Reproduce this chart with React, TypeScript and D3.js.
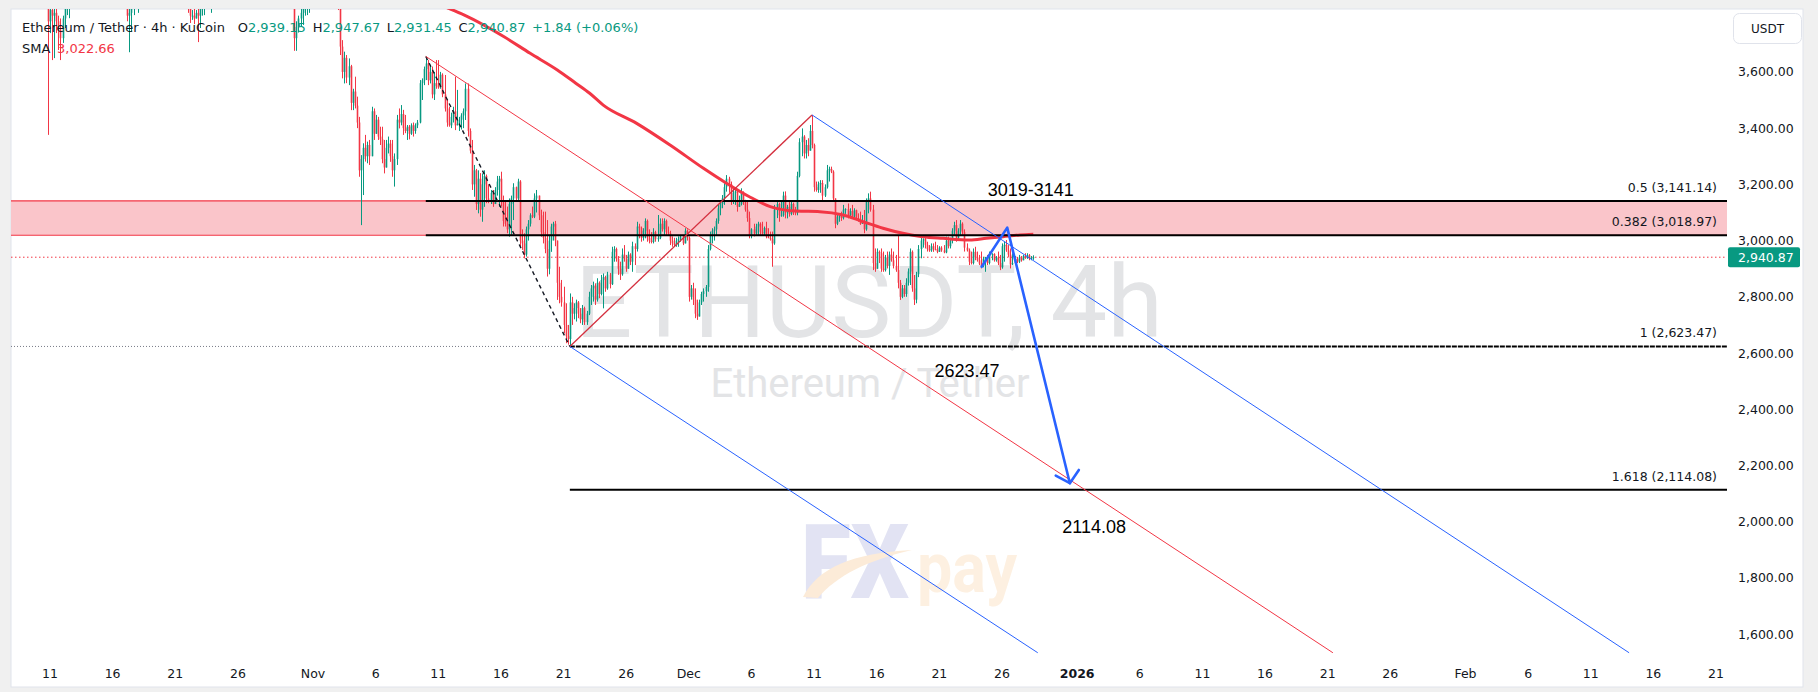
import React from 'react';
import * as d3 from 'd3';

// ---------------- DATA ----------------
// 4h candles from 2025-10-08 00:00 UTC, each [high, low, close]; open = previous close
const candleStartTime = '2025-10-08T00:00:00Z';
const firstOpen = 4460;
const candleHLC: number[][] = [
  [4495,4440,4480],[4530,4470,4510],[4525,4455,4470],[4480,4410,4440],[4500,4430,4490],[4540,4480,4520],
  [4530,4460,4470],[4485,4380,4400],[4420,4330,4350],[4390,4310,4370],[4400,4340,4360],[4380,4290,4330],
  [4370,4310,4350],[4400,4330,4380],[4390,4300,4320],[4340,4180,4200],[4230,4050,4080],[4100,3376,3780],
  [3860,3738,3820],[3850,3642,3800],[3835,3649,3810],[3860,3738,3780],[3800,3678,3750],[3790,3642,3720],
  [3800,3703,3790],[3860,3756,3850],[3920,3802,3900],[3960,3791,3940],[4050,3930,4030],[4150,4020,4130],
  [4180,4100,4160],[4230,4140,4210],[4260,4180,4200],[4250,4170,4230],[4290,4200,4250],[4270,4180,4200],
  [4210,4080,4100],[4110,3920,3960],[4050,3940,4030],[4120,4010,4100],[4150,4080,4120],[4140,4090,4110],
  [4170,4080,4150],[4200,4120,4140],[4150,4030,4050],[4070,3980,4000],[4020,3950,3980],[4000,3940,3990],
  [4060,3970,4040],[4090,4010,4070],[4080,3990,4000],[4010,3900,3920],[3950,3860,3890],[3920,3840,3880],
  [3900,3830,3850],[3860,3780,3800],[3830,3670,3810],[3870,3742,3850],[3900,3802,3880],[3920,3830,3890],
  [3920,3810,3900],[3930,3870,3890],[3920,3860,3900],[3940,3880,3910],[3930,3880,3900],[3920,3860,3890],
  [3920,3850,3900],[3960,3880,3940],[4000,3920,3980],[4010,3940,3960],[3990,3920,3970],[4010,3950,3990],
  [4050,3970,4030],[4080,4010,4060],[4070,3990,4010],[4030,3950,3980],[4000,3920,3960],[3980,3900,3930],
  [3960,3880,3900],[3940,3860,3920],[4100,3900,4080],[4120,3950,3970],[3990,3860,3880],[3900,3840,3870],
  [3890,3810,3830],[3840,3774,3800],[3820,3785,3800],[3830,3770,3790],[3820,3790,3810],[3830,3706,3800],
  [3840,3756,3830],[3860,3800,3850],[3880,3802,3860],[3890,3830,3870],[3900,3840,3880],[3910,3810,3890],
  [3930,3860,3910],[3960,3890,3940],[3980,3910,3930],[3950,3880,3900],[3930,3870,3910],[3940,3890,3920],
  [3950,3900,3930],[3960,3910,3940],[3970,3920,3950],[3980,3930,3960],[3990,3940,3950],[3980,3930,3970],
  [4000,3950,3990],[4050,3980,4040],[4080,4020,4060],[4100,4040,4090],[4140,4070,4120],[4170,4100,4150],
  [4230,4140,4210],[4250,4180,4200],[4220,4150,4170],[4190,4120,4140],[4160,4100,4120],[4140,4090,4110],
  [4130,4070,4090],[4110,4040,4060],[4080,4000,4020],[4040,3950,3970],[3990,3920,3950],[3980,3930,3960],
  [4000,3940,3980],[4020,3960,3990],[4010,3950,3970],[3990,3910,3930],[3950,3870,3890],[3910,3850,3880],
  [3900,3840,3870],[3880,3830,3850],[3860,3826,3840],[3845,3675,3720],[3780,3675,3760],[3800,3740,3790],
  [3830,3760,3810],[3850,3767,3840],[3870,3800,3860],[3880,3802,3870],[3890,3810,3880],[3900,3840,3870],
  [3890,3840,3870],[3900,3850,3880],[3910,3860,3890],[3910,3860,3880],[3900,3850,3870],[3890,3840,3880],
  [3920,3860,3900],[3930,3880,3910],[3920,3860,3880],[3900,3840,3860],[3890,3830,3870],[3900,3850,3880],
  [3900,3820,3850],[3860,3660,3690],[3713,3577,3600],[3672,3559,3650],[3660,3560,3580],[3648,3553,3620],
  [3625,3464,3490],[3540,3464,3530],[3583,3470,3480],[3512,3400,3420],[3440,3227,3250],[3304,3055,3290],
  [3346,3162,3330],[3376,3281,3300],[3352,3275,3340],[3358,3269,3300],[3476,3300,3460],[3470,3358,3380],
  [3447,3380,3430],[3440,3358,3370],[3405,3340,3360],[3405,3275,3290],[3358,3239,3260],[3358,3260,3330],
  [3370,3310,3345],[3358,3280,3300],[3358,3227,3250],[3310,3192,3290],[3447,3269,3430],[3470,3399,3420],
  [3482,3410,3450],[3465,3376,3400],[3447,3382,3390],[3411,3358,3405],[3411,3360,3380],[3417,3376,3410],
  [3420,3370,3390],[3417,3380,3410],[3429,3400,3420],[3571,3417,3560],[3577,3500,3570],[3619,3553,3610],
  [3654,3571,3630],
  [3642,3553,3570],[3625,3559,3600],[3619,3506,3520],[3600,3500,3560],[3642,3540,3550],[3642,3540,3545],
  [3600,3540,3590],[3595,3510,3520],[3589,3459,3470],[3500,3405,3420],[3476,3405,3410],[3455,3400,3440],
  [3476,3420,3460],[3583,3393,3410],[3536,3410,3415],[3440,3390,3430],[3453,3395,3445],[3470,3400,3460],
  [3559,3429,3540],[3559,3370,3390],[3399,3310,3320],[3358,3180,3200],[3269,3156,3250],[3255,3109,3130],
  [3250,3097,3220],[3240,3085,3110],[3239,3067,3200],[3250,3120,3230],[3235,3133,3150],[3200,3133,3140],
  [3180,3130,3170],[3180,3120,3130],[3190,3130,3180],[3230,3160,3210],[3230,3120,3220],[3245,3121,3140],
  [3160,3050,3070],[3140,3050,3060],[3121,3026,3040],[3150,3014,3130],[3160,3020,3150],[3204,3073,3190],
  [3192,3140,3150],[3220,3140,3210],[3215,2979,3000],[3040,2967,2990],[3026,2937,2950],[3050,2943,3040],
  [3073,3000,3060],[3097,3050,3090],[3121,3080,3085],[3168,3080,3150],[3180,3100,3160],[3160,3073,3090],
  [3110,3014,3030],[3103,2990,3010],[3103,2955,2970],[3073,2872,2900],[3020,2880,3000],[3060,2960,3050],
  [3067,3000,3060],[3070,2980,3000],[3000,2789,2850],[2907,2777,2800],[2860,2765,2780],[2836,2670,2700],
  [2777,2635,2660],[2700,2630,2650],[2812,2623.47,2780],
  [2800,2700,2740],[2777,2720,2760],[2790,2712,2780],[2785,2724,2740],[2760,2706,2720],[2771,2700,2760],
  [2765,2700,2710],[2750,2700,2740],[2818,2735,2800],[2842,2771,2830],[2854,2783,2840],[2848,2771,2790],
  [2866,2783,2850],[2855,2795,2810],[2878,2805,2860],[2883,2759,2870],[2875,2818,2830],[2889,2825,2880],
  [2885,2830,2845],[2978,2842,2960],[2980,2925,2970],[2975,2925,2935],[2945,2878,2900],[2925,2860,2880],
  [2972,2875,2950],[2984,2925,2935],[2949,2889,2900],[2961,2901,2950],[2955,2913,2925],[2996,2889,2980],
  [2990,2913,2970],[3067,2961,3050],[3060,3008,3045],[3050,2996,3010],[3044,3000,3035],[3079,3008,3070],
  [3075,2996,3010],[3040,2990,3000],[3030,2990,2995],[3044,2990,3030],[3035,2996,3005],[3091,2996,3010],
  [3079,3005,3060],[3079,3032,3040],[3079,3020,3070],[3075,3020,3030],[3050,3020,3025],[3035,2984,3000],
  [3015,2978,2990],[3010,2978,2985],[3010,2978,3000],[3015,2978,3005],[3020,2996,3015],[3020,2984,2990],
  [3044,2990,3035],[3040,3000,3010],[3015,2783,2800],[2842,2790,2830],[2850,2771,2790],[2830,2724,2740],
  [2790,2718,2730],[2790,2747,2780],[2818,2771,2810],[2830,2783,2820],[2842,2800,2835],[2984,2818,2970],
  [3032,2965,3020],[3044,2990,3035],[3050,3000,3040],[3079,3020,3070],[3127,3060,3115],[3140,3090,3130],
  [3162,3115,3150],[3204,3127,3190],[3233,3174,3220],[3227,3170,3200],[3210,3127,3140],[3186,3130,3170],
  [3186,3127,3175],[3180,3103,3120],[3160,3120,3130],[3186,3125,3170],[3175,3127,3140],[3145,3103,3110],
  [3138,3067,3080],[3103,3008,3020],[3044,3008,3040],[3060,3015,3025],[3060,3020,3050],[3067,3020,3060],
  [3065,3020,3030],[3067,3020,3025],[3050,3020,3045],[3067,3008,3015],[3044,3008,3010],[3032,3000,3005],
  [3032,2907,2990],[3127,2985,3110],[3138,3080,3130],[3135,3067,3090],[3138,3085,3090],[3174,3085,3160],
  [3175,3079,3100],[3127,3079,3120],[3138,3085,3095],[3144,3090,3130],[3135,3091,3100],[3120,3090,3098],
  [3245,3090,3230],[3364,3225,3350],[3399,3300,3370],[3375,3292,3310],[3358,3292,3340],[3364,3300,3320],
  [3411,3320,3390],[3447,3328,3340],[3345,3174,3190],[3210,3174,3180],[3210,3170,3200],[3215,3170,3205],
  [3215,3144,3160],[3200,3155,3190],[3269,3185,3250],[3263,3210,3255],[3263,3240,3245],[3250,3138,3150],
  [3150,3044,3060],[3091,3055,3085],[3097,3067,3090],[3103,3070,3080],[3127,3075,3110],[3115,3095,3112],
  [3132,3079,3090],[3115,3079,3105],[3127,3079,3085],[3115,3080,3108],[3110,3073,3080],[3097,3067,3072],
  [3103,3056,3060],[3091,3060,3065],[3109,3026,3040],[3150,3035,3140],[3168,3097,3150],[3174,3103,3110],
  [3127,2895,2920],[2972,2889,2900],[2972,2900,2960],[2965,2920,2955],[2972,2889,2900],[2961,2889,2895],
  [2949,2890,2940],[2961,2901,2910],[2961,2878,2950],[2972,2925,2930],[2961,2901,2910],[2949,2889,2895],
  [3020,2830,2850],[2860,2789,2800],[2842,2795,2830],[2842,2800,2810],[2866,2800,2850],[2901,2840,2890],
  [2972,2842,2960],[2965,2818,2830],[2878,2771,2790],[2889,2777,2880],[2984,2870,2970],[3014,2937,3000],
  [3008,2975,3005],[3014,2972,2985],[2996,2961,2970],[2984,2960,2965],[2990,2960,2980],[2990,2960,2970],
  [2996,2965,2968],[2984,2955,2960],[2980,2960,2975],[2980,2960,2965],[2984,2955,2958],[3014,2955,3000],
  [3014,2972,2980],[3010,2972,3000],[3044,2990,3035],[3067,3020,3055],[3073,2996,3010],[3044,3000,3035],
  [3073,3020,3060],[3065,3020,3030],[3040,2961,2975],[2990,2961,2965],[2972,2913,2925],[2961,2915,2920],
  [2972,2915,2960],[2978,2930,2940],[2961,2925,2930],[2949,2913,2918],[2961,2901,2910],[2942,2905,2935],
  [2942,2889,2940],[2949,2913,2920],[2961,2915,2950],[2955,2930,2952],[2955,2925,2930],[2945,2925,2940],
  [2961,2913,2920],[2949,2895,2905],[2990,2900,2980],[2996,2925,2985],[3002,2960,2965],[2984,2942,2950],
  [2972,2901,2915],[2955,2913,2920],[2945,2913,2935],[2942,2920,2925],[2949,2920,2940],[2945,2925,2930],
  [2949,2930,2945],[2955,2935,2938],[2955,2935,2948],[2952,2930,2935],[2945,2930,2939.03],[2947.67,2931.45,2940.87],
];

// SMA
const smaTimes = [
  '2025-11-10T12:00:00Z','2025-11-11T20:00:00Z','2025-11-13T02:00:00Z','2025-11-16T06:00:00Z','2025-11-18T08:00:00Z',
  '2025-11-20T12:00:00Z','2025-11-22T00:00:00Z','2025-11-23T02:00:00Z','2025-11-24T04:00:00Z','2025-11-26T20:00:00Z',
  '2025-11-29T12:00:00Z','2025-12-02T04:00:00Z','2025-12-04T00:00:00Z','2025-12-05T20:00:00Z','2025-12-07T12:00:00Z',
  '2025-12-09T14:00:00Z','2025-12-11T11:00:00Z','2025-12-13T08:00:00Z','2025-12-14T22:00:00Z','2025-12-16T12:00:00Z',
  '2025-12-18T02:00:00Z','2025-12-19T16:00:00Z','2025-12-21T07:00:00Z','2025-12-23T10:00:00Z','2025-12-24T18:00:00Z',
  '2025-12-26T02:00:00Z','2025-12-27T10:00:00Z','2025-12-28T12:00:00Z',
];
const smaValues = [
  3850, 3826, 3802, 3725, 3666,
  3607, 3559, 3524, 3482, 3417,
  3340, 3257, 3204, 3156, 3121,
  3105, 3103, 3091, 3067, 3044,
  3026, 3014, 3008, 3002, 3008,
  3014, 3020, 3022.66,
];

const priceTicks = [1600, 1800, 2000, 2200, 2400, 2600, 2800, 3000, 3200, 3400, 3600];
const timeTickDates = [
  '2025-10-11','2025-10-16','2025-10-21','2025-10-26','2025-11-01','2025-11-06','2025-11-11','2025-11-16','2025-11-21',
  '2025-11-26','2025-12-01','2025-12-06','2025-12-11','2025-12-16','2025-12-21','2025-12-26','2026-01-01','2026-01-06',
  '2026-01-11','2026-01-16','2026-01-21','2026-01-26','2026-02-01','2026-02-06','2026-02-11','2026-02-16','2026-02-21',
];
const timeTickLabels = ['11','16','21','26','Nov','6','11','16','21','26','Dec','6','11','16','21','26','2026','6','11','16','21','26','Feb','6','11','16','21'];

const zoneTop = 3141.14;
const zoneBottom = 3018.97;

const fibNames = ['0.5', '0.382', '1', '1.618'];
const fibValues = [3141.14, 3018.97, 2623.47, 2114.08];
const fibStartTimes = ['2025-11-10T00:00:00Z', '2025-11-10T00:00:00Z', '2025-11-21T12:00:00Z', '2025-11-21T12:00:00Z'];

const pivotTimes = ['2025-11-10T00:00:00Z', '2025-11-21T12:00:00Z', '2025-12-10T20:00:00Z'];
const pivotPrices = [3655, 2623.47, 3447];
const channelEndTimes = ['2026-01-21T10:00:00Z', '2025-12-28T20:30:00Z', '2026-02-14T01:30:00Z'];
const channelEndPrices = [1534, 1534, 1534];

const arrowTimes = ['2025-12-24T09:00:00Z', '2025-12-26T10:00:00Z', '2025-12-31T10:00:00Z'];
const arrowPrices = [2907, 3046, 2137];

const noteTexts = ['3019-3141', '2623.47', '2114.08'];
const noteTimes = ['2025-12-28T07:00:00Z', '2025-12-23T05:00:00Z', '2026-01-02T08:30:00Z'];
const notePrices = [3157, 2515, 1960];

const legendTitle = 'Ethereum / Tether · 4h · KuCoin';
const ohlcKeys = ['O', 'H', 'L', 'C'];
const ohlcValues = [2939.15, 2947.67, 2931.45, 2940.87];
const changeText = '+1.84 (+0.06%)';
const smaLegendValue = 3022.66;

// ---------------- STYLE ----------------
const GREEN = '#089981';
const RED = '#f23645';
const BLUE = '#2962ff';
const TEXT = '#131722';
const AXIS_FONT = '"DejaVu Sans", Verdana, sans-serif';
const NOTE_FONT = '"Liberation Sans", Arial, sans-serif';

const PL = 11, PR = 1727, PT = 9, PB = 655; // plot area
const PANE_R = 1803, PANE_B = 687;

export default function App() {
  const x = d3.scaleUtc()
    .domain([new Date('2025-10-11T00:00:00Z'), new Date('2026-02-21T00:00:00Z')])
    .range([50, 1716]);
  const y = d3.scaleLinear().domain([1600, 3600]).range([634.2, 71.9]);
  const fmt = d3.format(',.2f');

  const t0 = Date.parse(candleStartTime);
  let prev = firstOpen;
  const candles = candleHLC.map(([h, l, c], i) => {
    const o = prev;
    prev = c;
    return { t: new Date(t0 + i * 4 * 3600 * 1000), o, h: Math.max(h, o, c), l: Math.min(l, o, c), c };
  });
  const last = candles[candles.length - 1];

  const smaLine = d3.line<number>()
    .x((_, i) => x(new Date(smaTimes[i])))
    .y((v) => y(v))
    .curve(d3.curveMonotoneX)(smaValues) || '';

  const pivX = pivotTimes.map((s) => x(new Date(s)));
  const pivY = pivotPrices.map((p) => y(p));

  const arrowPts: [number, number][] = arrowTimes.map((s, i) => [x(new Date(s)), y(arrowPrices[i])]);
  const arrowPath = d3.line()(arrowPts) || '';
  const [ax1, ay1] = arrowPts[arrowPts.length - 2];
  const [ax2, ay2] = arrowPts[arrowPts.length - 1];
  const ang = Math.atan2(ay1 - ay2, ax1 - ax2);
  const hl = 16, spread = (48 * Math.PI) / 180;
  const headPath = `M${ax2 + hl * Math.cos(ang + spread)},${ay2 + hl * Math.sin(ang + spread)}L${ax2},${ay2}L${ax2 + hl * Math.cos(ang - spread)},${ay2 + hl * Math.sin(ang - spread)}`;

  const curY = y(last.c);
  const ohlcX = [237.7, 312.7, 386.7, 458.5];

  return (
    <svg width={1818} height={692} style={{ position: 'absolute', left: 0, top: 0, display: 'block' }}
      xmlns="http://www.w3.org/2000/svg">
      <defs>
        <clipPath id="plotClip">
          <rect x={PL} y={PT} width={PR - PL} height={PB - PT} />
        </clipPath>
      </defs>
      <rect x={0} y={0} width={1818} height={692} fill="#f0f0f0" />
      <rect x={PL} y={PT} width={PANE_R - PL} height={PANE_B - PT} fill="#ffffff" stroke="#e0e3eb" strokeWidth={1} />

      <g clipPath="url(#plotClip)">
        {/* watermark */}
        <text x={869} y={337} textAnchor="middle" fontFamily="Roboto, sans-serif" fontSize={101} fill="#e3e4e6">ETHUSDT, 4h</text>
        <text x={870} y={397} textAnchor="middle" fontFamily="Roboto, sans-serif" fontSize={40} fill="#e3e4e6">Ethereum / Tether</text>

        {/* FXpay logo */}
        <g>
          <text x={801} y={598} fontFamily="Roboto, sans-serif" fontWeight={900} fontSize={104} fill="#e2e3f3"
            textLength={108} lengthAdjust="spacingAndGlyphs">FX</text>
          <path d="M803,597 C818,568 852,553 912,550 C868,560 836,576 818,598 Z" fill="#fcebd8" />
          <text x={917} y={592} fontFamily="Roboto, sans-serif" fontWeight={700} fontSize={70} fill="#fdf0e1"
            textLength={100} lengthAdjust="spacingAndGlyphs">pay</text>
        </g>

        {/* zone */}
        <rect x={PL} y={y(zoneTop)} width={PR - PL} height={y(zoneBottom) - y(zoneTop)} fill="#fac5ca" />
        <line x1={PL} x2={PR} y1={y(zoneTop)} y2={y(zoneTop)} stroke={RED} strokeWidth={1.2} />
        <line x1={PL} x2={PR} y1={y(zoneBottom)} y2={y(zoneBottom)} stroke={RED} strokeWidth={1.2} />

        {/* gray dotted level to the low */}
        <line x1={PL} x2={pivX[1]} y1={y(pivotPrices[1])} y2={y(pivotPrices[1])} stroke="#787b86" strokeWidth={1} strokeDasharray="1 2" />
        {/* current price line */}
        <line x1={PL} x2={PR} y1={curY} y2={curY} stroke={RED} strokeWidth={1} strokeDasharray="1.5 2.5" />

        {/* candles */}
        <g>
          {candles.map((d, i) => {
            const cx = Math.round(x(d.t)) + 0.5;
            const col = d.c >= d.o ? GREEN : RED;
            const yo = y(d.o), yc = y(d.c);
            return (
              <g key={i}>
                <line x1={cx} x2={cx} y1={y(d.h)} y2={y(d.l)} stroke={col} strokeWidth={1} />
                <rect x={cx - 0.8} width={1.6} y={Math.min(yo, yc)} height={Math.max(Math.abs(yc - yo), 1)} fill={col} />
              </g>
            );
          })}
        </g>

        {/* SMA */}
        <path d={smaLine} fill="none" stroke={RED} strokeWidth={3} strokeLinejoin="round" />

        {/* fib lines */}
        {fibValues.map((v, i) => (
          <line key={i} x1={x(new Date(fibStartTimes[i]))} x2={PR} y1={y(v)} y2={y(v)} stroke="#000000"
            strokeWidth={2} strokeDasharray={fibNames[i] === '1' ? '5 1' : undefined} />
        ))}
        {fibValues.map((v, i) => (
          <text key={'fl' + i} x={PR - 10} y={y(v) - 9} textAnchor="end" fontFamily={AXIS_FONT} fontSize={12.5} fill={TEXT}>
            {`${fibNames[i]} (${fmt(v)})`}
          </text>
        ))}

        {/* channel / swing lines */}
        <line x1={pivX[0]} y1={pivY[0]} x2={pivX[1]} y2={pivY[1]} stroke="#131722" strokeWidth={1.4} strokeDasharray="4 3.5" />
        <line x1={pivX[1]} y1={pivY[1]} x2={pivX[2]} y2={pivY[2]} stroke="#d42f3e" strokeWidth={1.3} />
        {channelEndTimes.map((s, i) => (
          <line key={'ch' + i} x1={pivX[i]} y1={pivY[i]} x2={x(new Date(s))} y2={y(channelEndPrices[i])}
            stroke={i === 0 ? RED : BLUE} strokeWidth={1} />
        ))}

        {/* blue projection arrow */}
        <path d={arrowPath} fill="none" stroke={BLUE} strokeWidth={2.6} strokeLinejoin="round" strokeLinecap="round" />
        <path d={headPath} fill="none" stroke={BLUE} strokeWidth={2.6} strokeLinejoin="round" strokeLinecap="round" />

        {/* notes */}
        {noteTexts.map((s, i) => (
          <text key={'n' + i} x={x(new Date(noteTimes[i]))} y={y(notePrices[i])} textAnchor="middle"
            fontFamily={NOTE_FONT} fontSize={18} fill="#000000">{s}</text>
        ))}
      </g>

      {/* legend */}
      <g fontFamily={AXIS_FONT} fontSize={13}>
        <text x={22} y={32} fill={TEXT}>{legendTitle}</text>
        {ohlcKeys.map((k, i) => (
          <text key={k} x={ohlcX[i]} y={32} fill={TEXT}>
            {k}<tspan fill={GREEN}>{fmt(ohlcValues[i])}</tspan>
          </text>
        ))}
        <text x={532} y={32} fill={GREEN}>{changeText}</text>
        <text x={22} y={53} fill={TEXT}>SMA</text>
        <text x={57} y={53} fill={RED}>{fmt(smaLegendValue)}</text>
      </g>

      {/* price axis */}
      <g fontFamily={AXIS_FONT} fontSize={12.5} fill={TEXT}>
        {priceTicks.map((p) => (
          <text key={p} x={1738} y={y(p) + 4.5}>{fmt(p)}</text>
        ))}
      </g>
      <rect x={1728} y={curY - 10} width={72} height={20} rx={2} fill={GREEN} />
      <text x={1738} y={curY + 4.5} fontFamily={AXIS_FONT} fontSize={12.5} fill="#ffffff">{fmt(last.c)}</text>

      <rect x={1733.5} y={13.5} width={68} height={30} rx={6} fill="#ffffff" stroke="#e0e3eb" />
      <text x={1767.5} y={33} textAnchor="middle" fontFamily={AXIS_FONT} fontSize={12} fill={TEXT}>USDT</text>

      {/* time axis */}
      <g fontFamily={AXIS_FONT} fontSize={12.5} fill={TEXT}>
        {timeTickDates.map((s, i) => (
          <text key={s} x={x(new Date(s + 'T00:00:00Z'))} y={677.5} textAnchor="middle"
            fontWeight={timeTickLabels[i] === '2026' ? 700 : 400}>{timeTickLabels[i]}</text>
        ))}
      </g>
    </svg>
  );
}
